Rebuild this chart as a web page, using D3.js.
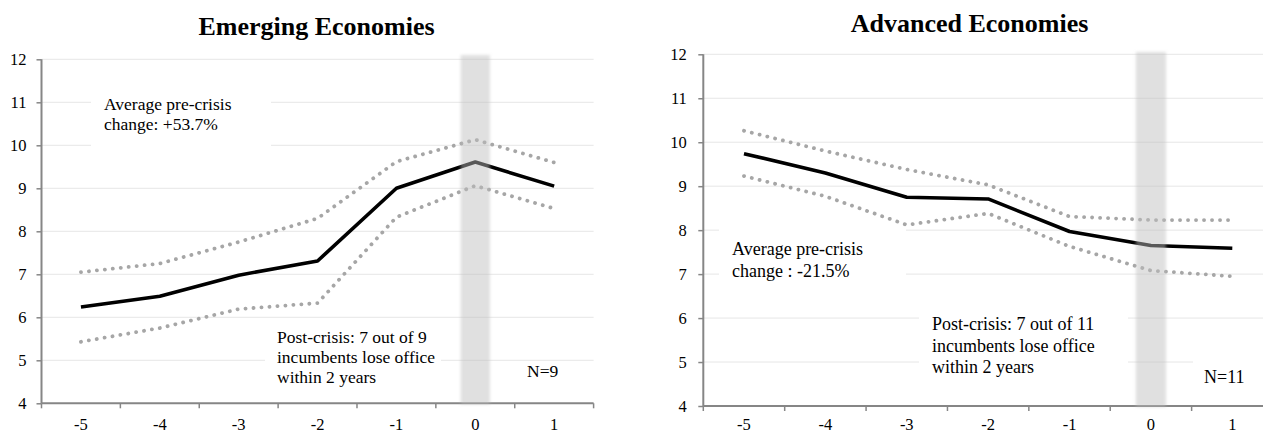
<!DOCTYPE html>
<html>
<head>
<meta charset="utf-8">
<script src="https://cdn.jsdelivr.net/npm/d3@7/dist/d3.min.js"></script>
<style>
  html, body { margin: 0; padding: 0; background: #fff; }
  svg { display: block; }
  text { font-family: "Liberation Serif", "Times New Roman", serif; fill: #000; }
</style>
</head>
<body>
<svg id="chart" width="1263" height="433"></svg>
<script>
// Years relative to the crisis (0 = crisis year)
const years = ["-5", "-4", "-3", "-2", "-1", "0", "1"];
const crisisYear = "0";
const yTicks = [4, 5, 6, 7, 8, 9, 10, 11, 12];

// Emerging economies: average with confidence band
const emergingMean  = [6.24, 6.49, 6.98, 7.31, 9.00, 9.61, 9.05];
const emergingUpper = [7.05, 7.25, 7.75, 8.30, 9.62, 10.13, 9.60];
const emergingLower = [5.43, 5.75, 6.19, 6.33, 8.33, 9.06, 8.53];

// Advanced economies: average with confidence band
const advancedMean  = [9.74, 9.30, 8.75, 8.71, 7.97, 7.65, 7.59];
const advancedUpper = [10.26, 9.80, 9.38, 9.03, 8.31, 8.23, 8.23];
const advancedLower = [9.23, 8.77, 8.12, 8.38, 7.63, 7.08, 6.95];

const emergingTitle = "Emerging Economies";
const advancedTitle = "Advanced Economies";
const emergingPre  = ["Average pre-crisis", "change: +53.7%"];
const advancedPre  = ["Average pre-crisis", "change : -21.5%"];
const emergingPost = ["Post-crisis: 7 out of 9", "incumbents lose office", "within 2 years"];
const advancedPost = ["Post-crisis: 7 out of 11", "incumbents lose office", "within 2 years"];
const emergingN = "N=9";
const advancedN = "N=11";

const SERIF = "'Liberation Serif', 'Times New Roman', serif";

// Layout of the two panels
const panels = [
  {
    title: emergingTitle, titleX: 316.5, titleY: 35,
    mean: emergingMean, upper: emergingUpper, lower: emergingLower,
    x0: 41.5, x1: 593.6, yTop: 59.3, yBottom: 403.3,
    tickPad: 10, bandTop: 55, labelY: 429.5,
    notes: [
      { lines: emergingPre, x: 104, y: 109.5, lh: 20, size: 17.5,
        box: [91, 92, 180, 60] },
      { lines: emergingPost, x: 277, y: 343, lh: 20, size: 17.5,
        box: [265, 327, 176, 66] },
      { lines: [emergingN], x: 527, y: 377, lh: 20, size: 17.5, box: null }
    ]
  },
  {
    title: advancedTitle, titleX: 969.5, titleY: 32,
    mean: advancedMean, upper: advancedUpper, lower: advancedLower,
    x0: 703.3, x1: 1273, yTop: 54.3, yBottom: 406,
    tickPad: 11.5, bandTop: 52, labelY: 429.5,
    notes: [
      { lines: advancedPre, x: 732, y: 255, lh: 21.7, size: 18,
        box: [719, 224, 187, 62] },
      { lines: advancedPost, x: 932, y: 330, lh: 21.7, size: 18,
        box: [919, 312, 209, 76] },
      { lines: [advancedN], x: 1204, y: 383, lh: 21.7, size: 18,
        box: [1193, 352, 70, 40] }
    ]
  }
];

const svg = d3.select("#chart");

// Soft edge for the crisis-year shading
const defs = svg.append("defs");
defs.append("filter").attr("id", "soft")
  .attr("x", "-50%").attr("y", "-5%").attr("width", "200%").attr("height", "110%")
  .append("feGaussianBlur").attr("stdDeviation", 1.4);

panels.forEach((p, i) => {
  const g = svg.append("g").attr("class", "panel-" + i)
    .attr("font-family", SERIF);

  const x = d3.scaleBand().domain(years).range([p.x0, p.x1]).paddingInner(0).paddingOuter(0);
  const y = d3.scaleLinear().domain([4, 12]).range([p.yBottom, p.yTop]);
  const cx = d => x(d) + x.bandwidth() / 2;

  // Title
  g.append("text")
    .attr("x", p.titleX).attr("y", p.titleY)
    .attr("text-anchor", "middle")
    .attr("font-family", SERIF)
    .style("font-size", "26px").style("font-weight", "bold")
    .text(p.title);

  // Horizontal gridlines
  g.append("g").selectAll("line")
    .data(yTicks.filter(t => t > 4))
    .join("line")
    .attr("x1", p.x0).attr("x2", p.x1)
    .attr("y1", d => y(d)).attr("y2", d => y(d))
    .attr("stroke", "#e6e6e6").attr("stroke-width", 1);

  // White backing boxes for the annotations
  p.notes.filter(n => n.box).forEach(n => {
    g.append("rect")
      .attr("x", n.box[0]).attr("y", n.box[1])
      .attr("width", n.box[2]).attr("height", n.box[3])
      .attr("fill", "#fff");
  });

  // Y axis
  const yAxis = d3.axisLeft(y).tickValues(yTicks).tickSize(5)
    .tickPadding(p.tickPad).tickFormat(d3.format("d"));
  const ya = g.append("g").attr("transform", `translate(${p.x0},0)`).call(yAxis)
    .attr("font-family", SERIF);
  ya.select(".domain").remove();
  ya.selectAll(".tick line").attr("stroke", "#868686").attr("stroke-width", 1.5);
  ya.selectAll(".tick text")
    .attr("dy", "0.34em")
    .attr("font-family", SERIF)
    .style("font-size", "16.5px");
  g.append("line")
    .attr("x1", p.x0).attr("x2", p.x0)
    .attr("y1", y(12)).attr("y2", y(4))
    .attr("stroke", "#868686").attr("stroke-width", 2);

  // X axis: line, boundary ticks, centred labels
  g.append("line")
    .attr("x1", p.x0).attr("x2", Math.min(p.x1, 1263))
    .attr("y1", y(4)).attr("y2", y(4))
    .attr("stroke", "#868686").attr("stroke-width", 2);
  const bounds = years.map(d => x(d)).concat([p.x1]);
  g.append("g").selectAll("line")
    .data(bounds)
    .join("line")
    .attr("x1", d => d).attr("x2", d => d)
    .attr("y1", y(4)).attr("y2", y(4) + 5)
    .attr("stroke", "#868686").attr("stroke-width", 1.5);
  g.append("g").selectAll("text")
    .data(years)
    .join("text")
    .attr("x", d => cx(d)).attr("y", p.labelY)
    .attr("text-anchor", "middle")
    .attr("font-family", SERIF)
    .style("font-size", "16.5px")
    .text(d => d);

  // Confidence bounds (dotted) and mean (solid)
  const line = d3.line().x((d, k) => cx(years[k])).y(d => y(d));
  [p.upper, p.lower].forEach(s => {
    g.append("path").datum(s)
      .attr("d", line)
      .attr("fill", "none")
      .attr("stroke", "#a6a6a6")
      .attr("stroke-width", 3.8)
      .attr("stroke-linecap", "round")
      .attr("stroke-dasharray", "0.1 7.9");
  });
  g.append("path").datum(p.mean)
    .attr("d", line)
    .attr("fill", "none")
    .attr("stroke", "#000")
    .attr("stroke-width", 3.6)
    .attr("stroke-linejoin", "round");

  // Crisis-year shading, semi-transparent over the lines
  const bw = x.bandwidth() * 0.37;
  g.append("rect")
    .attr("x", cx(crisisYear) - bw / 2).attr("width", bw)
    .attr("y", p.bandTop).attr("height", y(4) + 1 - p.bandTop)
    .attr("fill", "rgb(189,189,189)").attr("fill-opacity", 0.47)
    .attr("filter", "url(#soft)");

  // Annotations
  p.notes.forEach(n => {
    const t = g.append("text")
      .attr("x", n.x).attr("y", n.y)
      .attr("font-family", SERIF)
      .style("font-size", n.size + "px");
    n.lines.forEach((s, k) => {
      t.append("tspan").attr("x", n.x).attr("y", n.y + k * n.lh).text(s);
    });
  });
});
</script>
</body>
</html>
